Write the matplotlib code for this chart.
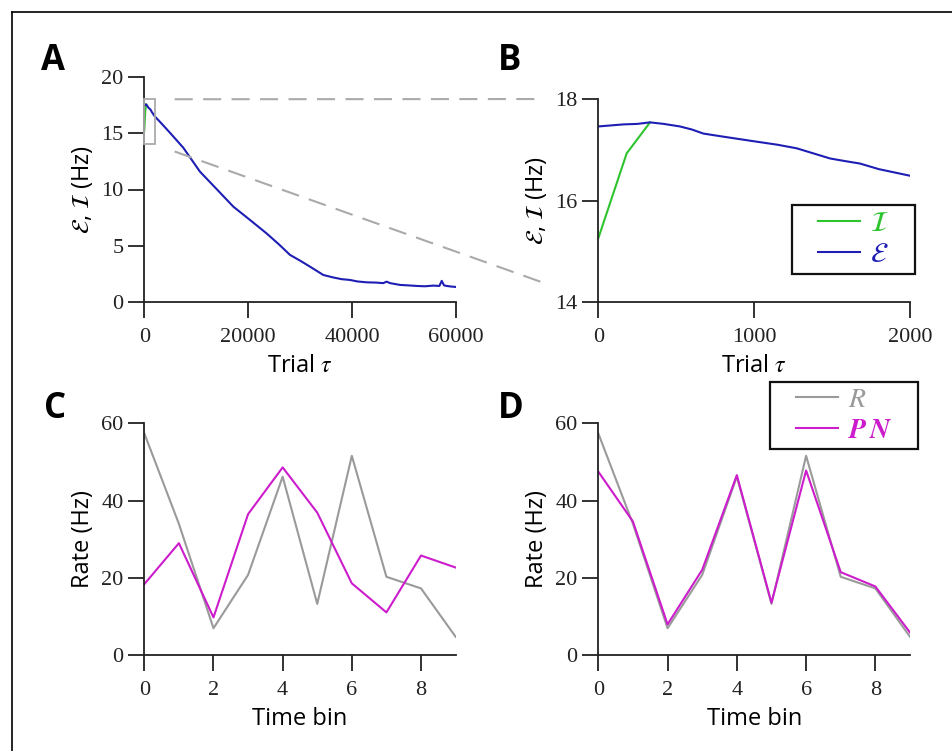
import matplotlib
matplotlib.use("Agg")
import matplotlib.pyplot as plt
from matplotlib.lines import Line2D
from matplotlib.patches import Rectangle

plt.rcParams['mathtext.fontset'] = 'stix'
plt.rcParams['font.family'] = ['Open Sans', 'DejaVu Sans']
plt.rcParams['lines.scale_dashes'] = False

# ---------------- data ----------------
trials_I = [0, 182, 332]
rate_I = [15.26, 16.93, 17.54]

trials_E = [0, 80, 160, 250, 332, 420, 524, 600, 674, 800, 995, 1150, 1273, 1380,
            1487, 1580, 1679, 1800, 2000, 3016, 5000, 7510, 10718, 14000, 17137,
            20347, 23556, 26000, 28049, 30000, 31900, 34467, 36393, 38000, 39600,
            41000, 42811, 44500, 46000, 46660, 47300, 49230, 50800, 52440, 54000,
            55650, 56800, 57250, 57700, 58215, 59000, 60000]
rate_E = [17.46, 17.48, 17.50, 17.51, 17.54, 17.51, 17.46, 17.40, 17.32, 17.26,
          17.17, 17.10, 17.03, 16.93, 16.83, 16.78, 16.73, 16.62, 16.49, 16.0,
          15.0, 13.7, 11.58, 10.0, 8.48, 7.3, 6.1, 5.1, 4.2, 3.69, 3.16, 2.42,
          2.2, 2.05, 1.98, 1.85, 1.77, 1.75, 1.7, 1.83, 1.7, 1.54, 1.5, 1.45,
          1.42, 1.48, 1.45, 1.9, 1.5, 1.45, 1.4, 1.36]

time_bins = [0, 1, 2, 3, 4, 5, 6, 7, 8, 9]
R = [57.4, 34.0, 7.0, 20.8, 46.2, 13.3, 51.6, 20.3, 17.3, 4.8]
PN_C = [18.4, 29.0, 9.8, 36.5, 48.6, 36.9, 18.6, 11.1, 25.8, 22.7]
PN_D = [47.5, 34.6, 8.0, 22.1, 46.6, 13.6, 47.8, 21.5, 17.8, 5.9]

zoom_x = (0, 2000)
zoom_y = (14, 18)

GREEN = '#2ec42e'
BLUE = '#1e1eb4'
GRAY = '#9a9a9a'
MAGENTA = '#cc1ccc'
SPINE = '#222222'

W, H = 952, 751
fig = plt.figure(figsize=(W / 100, H / 100), dpi=100)


def frac(l, t, r, b):
    return [l / W, 1 - b / H, (r - l) / W, (b - t) / H]


axA = fig.add_axes(frac(144.3, 76.7, 456.0, 302.3))
axB = fig.add_axes(frac(598.3, 99.0, 910.0, 302.3))
axC = fig.add_axes(frac(144.3, 423.3, 455.6, 655.3))
axD = fig.add_axes(frac(598.3, 423.3, 910.0, 655.3))

labfont = dict(family=['Open Sans', 'DejaVu Sans'], size=17, labelpad=5)


def style(ax):
    for s in ['top', 'right']:
        ax.spines[s].set_visible(False)
    for s in ['left', 'bottom']:
        ax.spines[s].set_color(SPINE)
        ax.spines[s].set_linewidth(1.3)
    ax.tick_params(direction='out', length=11.3, width=1.3, color=SPINE)
    ax.tick_params(axis='x', pad=7.5)
    ax.tick_params(axis='y', pad=3.5)
    for lab in ax.get_xticklabels() + ax.get_yticklabels():
        lab.set_fontfamily('Liberation Serif')
        lab.set_fontsize(16)
        lab.set_color('#222222')


def boxed_legend(ax, l, t, r, b):
    ax.add_patch(Rectangle((l / W, 1 - b / H), (r - l) / W, (b - t) / H,
                           transform=fig.transFigure, fill=True,
                           facecolor='white', edgecolor='#111111', lw=1.6,
                           clip_on=False, zorder=4))
    leg = ax.legend(loc='center', bbox_to_anchor=((l + r) / 2 / W, 1 - (t + b) / 2 / H),
                    bbox_transform=fig.transFigure, frameon=False,
                    labelcolor='linecolor', fontsize=20, handlelength=1.5,
                    borderpad=0, labelspacing=0.1, handletextpad=0.35)
    leg.set_zorder(6)
    return leg


# ---------- A ----------
axA.plot(trials_I, rate_I, color=GREEN, lw=1.5)
axA.plot(trials_E, rate_E, color=BLUE, lw=1.5)
axA.set_xlim(0, 60000)
axA.set_ylim(0, 20)
axA.set_xticks([0, 20000, 40000, 60000])
axA.set_yticks([0, 5, 10, 15, 20])
axA.add_patch(Rectangle((zoom_x[0], zoom_y[0]), zoom_x[1] - zoom_x[0],
                        zoom_y[1] - zoom_y[0], fill=False, edgecolor='#aaaaaa',
                        lw=1.3, clip_on=False, zorder=3))
axA.set_xlabel(r'Trial $\tau$', **labfont)
axA.set_ylabel(r'$\mathcal{E}$, $\mathcal{I}$ (Hz)', **labfont)
style(axA)

# ---------- B ----------
axB.plot(trials_I, rate_I, color=GREEN, lw=1.5, label=r'$\mathcal{I}$')
axB.plot(trials_E, rate_E, color=BLUE, lw=1.5, label=r'$\mathcal{E}$')
axB.set_xlim(*zoom_x)
axB.set_ylim(*zoom_y)
axB.set_xticks([0, 1000, 2000])
axB.set_yticks([14, 16, 18])
axB.set_xlabel(r'Trial $\tau$', **labfont)
axB.set_ylabel(r'$\mathcal{E}$, $\mathcal{I}$ (Hz)', **labfont)
style(axB)
boxed_legend(axB, 792, 205, 915, 274)

# ---------- C ----------
axC.plot(time_bins, R, color=GRAY, lw=1.5)
axC.plot(time_bins, PN_C, color=MAGENTA, lw=1.5)
axC.set_xlim(0, 9)
axC.set_ylim(0, 60)
axC.set_xticks([0, 2, 4, 6, 8])
axC.set_yticks([0, 20, 40, 60])
axC.set_xlabel('Time bin', **labfont)
axC.set_ylabel('Rate (Hz)', **labfont)
style(axC)

# ---------- D ----------
axD.plot(time_bins, R, color=GRAY, lw=1.5, label=r'$R$')
axD.plot(time_bins, PN_D, color=MAGENTA, lw=1.5, label=r'$\boldsymbol{P\,N}$')
axD.set_xlim(0, 9)
axD.set_ylim(0, 60)
axD.set_xticks([0, 2, 4, 6, 8])
axD.set_yticks([0, 20, 40, 60])
axD.set_xlabel('Time bin', **labfont)
axD.set_ylabel('Rate (Hz)', **labfont)
style(axD)
boxed_legend(axD, 770, 382, 918, 449)

# ---------- connector dashed lines ----------
inv = fig.transFigure.inverted()
for yv in (zoom_y[1], zoom_y[0]):
    p0 = axA.transData.transform((zoom_x[1], yv))
    p1 = axB.transData.transform((zoom_x[0], yv))
    a = p0 + (p1 - p0) * 0.045
    b = p0 + (p1 - p0) * 0.875
    fa = inv.transform(a)
    fb = inv.transform(b)
    fig.add_artist(Line2D([fa[0], fb[0]], [fa[1], fb[1]], color='#aaaaaa',
                          lw=1.5, linestyle=(0, (13, 7.5)),
                          transform=fig.transFigure))

# ---------- panel letters ----------
for txt, x, y in [('A', 41, 70), ('B', 498, 70), ('C', 44, 418), ('D', 498, 418)]:
    fig.text(x / W, 1 - y / H, txt, fontsize=25, fontweight='bold',
             family=['Open Sans', 'DejaVu Sans'], ha='left', va='baseline')

# ---------- outer border (left & top) ----------
fig.add_artist(Line2D([11.5 / W, 11.5 / W], [0, 1 - 11.5 / H], color='black',
                      lw=1.2, transform=fig.transFigure))
fig.add_artist(Line2D([11.5 / W, 1], [1 - 11.5 / H, 1 - 11.5 / H], color='black',
                      lw=1.2, transform=fig.transFigure))

fig.savefig('out.png', dpi=100)
